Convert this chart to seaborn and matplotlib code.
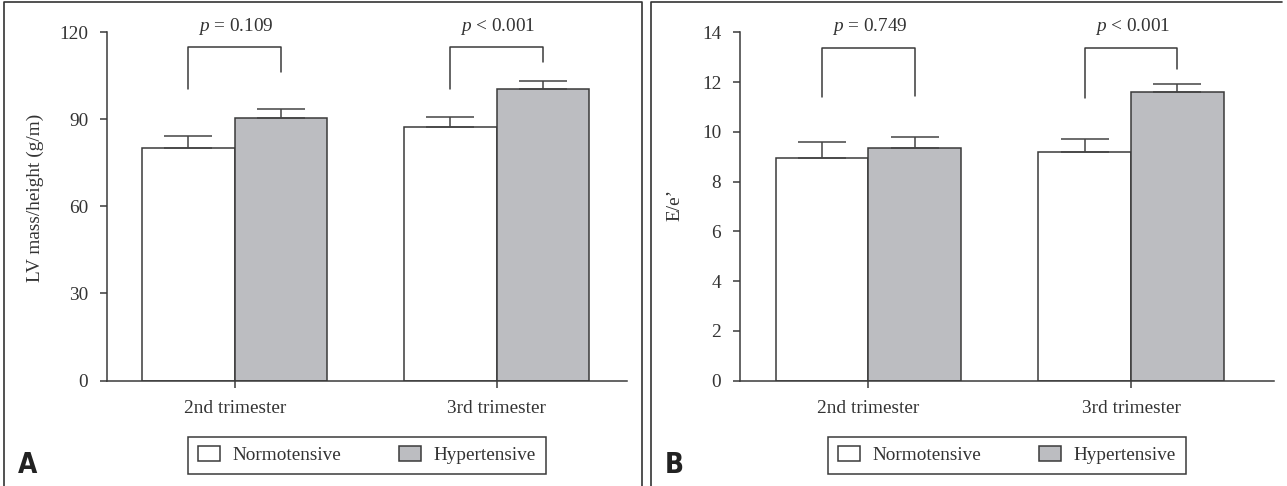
import matplotlib
matplotlib.use("Agg")
import matplotlib.pyplot as plt
import seaborn as sns
import pandas as pd
from matplotlib.lines import Line2D

# ---------------- data ----------------
categories = ["2nd trimester", "3rd trimester"]
groups = ["Normotensive", "Hypertensive"]

lv_normo = [80.2, 87.4]
lv_normo_err = [4.2, 3.3]
lv_hyper = [90.5, 100.4]
lv_hyper_err = [3.1, 2.8]
lv_ticks = [0, 30, 60, 90, 120]
lv_ptext = ["= 0.109", "< 0.001"]
lv_bracket_top = [115.0, 115.0]
lv_bracket_left = [100.4, 100.4]
lv_bracket_right = [106.4, 109.9]

ee_normo = [8.93, 9.19]
ee_normo_err = [0.64, 0.50]
ee_hyper = [9.33, 11.61]
ee_hyper_err = [0.45, 0.31]
ee_ticks = [0, 2, 4, 6, 8, 10, 12, 14]
ee_ptext = ["= 0.749", "< 0.001"]
ee_bracket_top = [13.36, 13.36]
ee_bracket_left = [11.41, 11.37]
ee_bracket_right = [11.45, 12.51]

# ---------------- style ----------------
sns.set_theme(style="ticks")
plt.rcParams["font.family"] = ["Liberation Serif", "DejaVu Serif"]
plt.rcParams["mathtext.fontset"] = "custom"
plt.rcParams["mathtext.rm"] = "Liberation Serif"
plt.rcParams["mathtext.it"] = "Liberation Serif:italic"

DARK = "#3a3a3a"
TXT = "#333333"
GRAY = "#bcbdc1"
FS = 13.9

fig = plt.figure(figsize=(12.87, 4.86), dpi=100)
W, H = 1287.0, 486.0


def px_axes(left, right, top, bottom):
    return fig.add_axes([left / W, 1 - bottom / H, (right - left) / W, (bottom - top) / H])


def draw_panel(ax, normo, normo_err, hyper, hyper_err, ticks, ylabel,
               ptext, b_top, b_left, b_right, xlim, ylab_pos):
    df = pd.DataFrame({
        "trimester": categories * 2,
        "group": [groups[0]] * len(categories) + [groups[1]] * len(categories),
        "value": normo + hyper,
    })
    errs = [normo_err, hyper_err]
    sns.barplot(data=df, x="trimester", y="value", hue="group",
                order=categories, hue_order=groups,
                palette=["white", GRAY], saturation=1, width=0.706,
                edgecolor=DARK, linewidth=1.1, errorbar=None, ax=ax)
    ymax = ticks[-1]
    ax.set_ylim(0, ymax)
    ax.set_xlim(*xlim)
    ax.set_yticks(ticks)
    ax.set_xlabel("")
    ax.set_ylabel(ylabel, fontsize=FS, color=TXT)
    ax.yaxis.set_label_coords(*ylab_pos)
    ax.yaxis.label.set_va("center")

    # error bars (upper only)
    centers = []
    for gi, cont in enumerate(ax.containers[:2]):
        cs = []
        for j, bar in enumerate(cont):
            x = bar.get_x() + bar.get_width() / 2
            top = bar.get_height()
            cs.append(x)
            ax.errorbar(x, top, yerr=[[0], [errs[gi][j]]], fmt="none",
                        ecolor="#444444", elinewidth=1.1, capsize=17.6,
                        capthick=1.1, zorder=3)
        centers.append(cs)

    # significance brackets and p-values
    for j in range(len(categories)):
        xl, xr = centers[0][j], centers[1][j]
        ax.plot([xl, xl, xr, xr], [b_left[j], b_top[j], b_top[j], b_right[j]],
                color=DARK, lw=1.1, clip_on=False, zorder=3)
        ax.text((xl + xr) / 2 + 0.005, ymax * 1.018, r"$\it{p}$ " + ptext[j],
                ha="center", va="center", fontsize=FS, color=TXT, clip_on=False)

    sns.despine(ax=ax)
    for s in ("left", "bottom"):
        ax.spines[s].set_color(DARK)
        ax.spines[s].set_linewidth(1.1)
    ax.tick_params(axis="both", direction="out", length=5, width=1.1,
                   color=DARK, labelsize=FS, labelcolor=TXT)
    ax.tick_params(axis="y", pad=8.5)
    ax.tick_params(axis="x", pad=9)

    leg = ax.get_legend()
    handles = leg.legend_handles
    labels = [t.get_text() for t in leg.get_texts()]
    leg.remove()
    new_leg = ax.legend(handles, labels, loc="center",
                        bbox_to_anchor=(0.5, -0.215), ncol=2, frameon=True,
                        fancybox=False, edgecolor=DARK, framealpha=1,
                        handlelength=1.15, handleheight=0.78, handletextpad=0.65,
                        columnspacing=3.0, borderpad=0.5, fontsize=FS)
    new_leg.get_frame().set_linewidth(1.1)
    for t in new_leg.get_texts():
        t.set_color(TXT)
    for h in new_leg.legend_handles:
        h.set_edgecolor(DARK)
        h.set_linewidth(1.1)


axA = px_axes(107, 627, 32.3, 380.5)
draw_panel(axA, lv_normo, lv_normo_err, lv_hyper, lv_hyper_err, lv_ticks,
           "LV mass/height (g/m)", lv_ptext, lv_bracket_top, lv_bracket_left,
           lv_bracket_right, (-0.487, 1.497), (-0.138, 0.524))

axB = px_axes(740, 1274, 32.3, 380.5)
draw_panel(axB, ee_normo, ee_normo_err, ee_hyper, ee_hyper_err, ee_ticks,
           "E/e\u2019", ee_ptext, ee_bracket_top, ee_bracket_left,
           ee_bracket_right, (-0.4895, 1.545), (-0.122, 0.504))

# panel frames
fig.add_artist(Line2D([4.3 / W, 4.3 / W, 641.7 / W, 641.7 / W],
                      [0, 1 - 2.5 / H, 1 - 2.5 / H, 0],
                      transform=fig.transFigure, color="#333333", lw=1.2))
fig.add_artist(Line2D([651 / W, 651 / W, 1282 / W],
                      [0, 1 - 2.5 / H, 1 - 2.5 / H],
                      transform=fig.transFigure, color="#333333", lw=1.2))

# panel letters
for lx, letter in ((18, "A"), (665, "B")):
    fig.text(lx / W, 1 - 473 / H, letter, fontsize=20, fontweight="bold",
             family="DejaVu Sans", fontstretch="condensed", va="baseline",
             ha="left", color="#222222")

fig.savefig("out.png", dpi=100)
